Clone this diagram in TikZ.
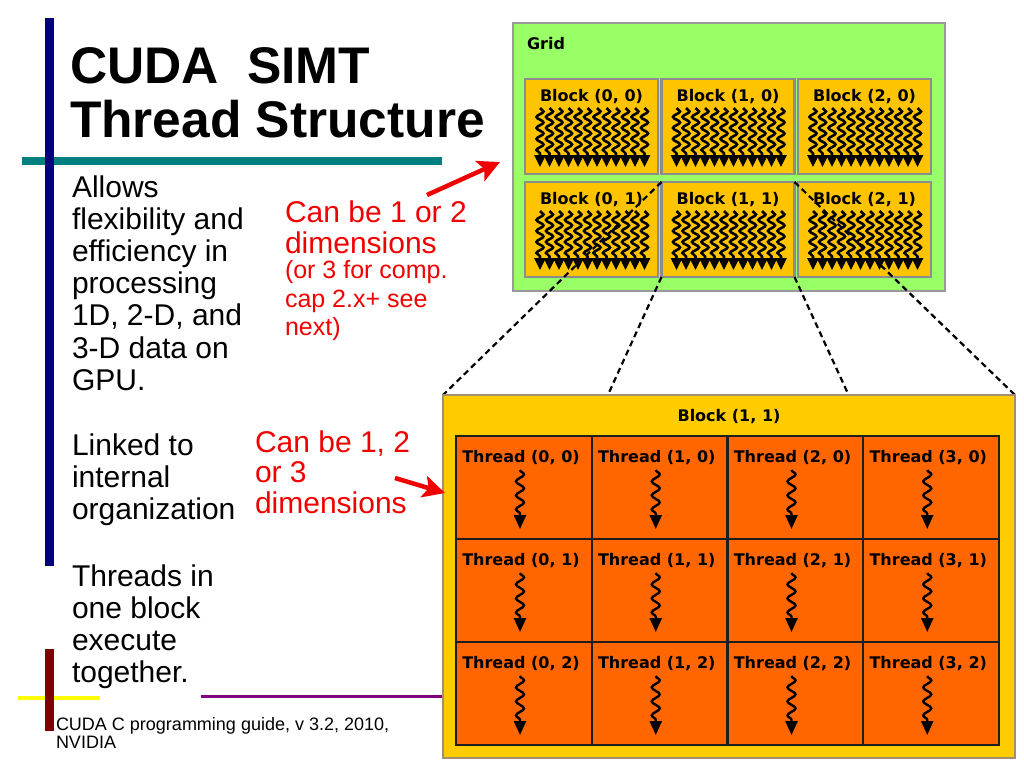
\documentclass[tikz,border=0pt]{standalone}
\usepackage{fontspec}
\setmainfont{Liberation Sans}
\newfontfamily\dvfont{DejaVu Sans}
\usetikzlibrary{decorations.pathmorphing,arrows.meta}
\definecolor{navybar}{HTML}{000080}
\definecolor{tealbar}{HTML}{008080}
\definecolor{maroonbar}{HTML}{800000}
\definecolor{purplebar}{HTML}{800080}
\definecolor{yellowbar}{HTML}{FFFF00}
\definecolor{gridgreen}{HTML}{99FF66}
\definecolor{gridborder}{HTML}{999999}
\definecolor{blkfill}{HTML}{FFC400}
\definecolor{blkborder}{HTML}{8C8C8C}
\definecolor{bigfill}{HTML}{FFCC00}
\definecolor{bigborder}{HTML}{A09070}
\definecolor{thfill}{HTML}{FF6600}
\definecolor{thborder}{HTML}{1E1E1E}
\definecolor{redtxt}{HTML}{F00000}
\begin{document}
\begin{tikzpicture}[x=1pt,y=-1pt,
  txt/.style={anchor=base west,inner sep=0pt,outer sep=0pt},
  titletxt/.style={txt,font=\fontsize{51.5}{54}\selectfont\bfseries},
  bodytxt/.style={txt,font=\fontsize{30}{32}\selectfont},
  redbig/.style={txt,text=redtxt,font=\fontsize{30}{32}\selectfont},
  redsmall/.style={txt,text=redtxt,font=\fontsize{25}{28}\selectfont},
  citetxt/.style={txt,font=\fontsize{18}{18}\selectfont},
  lbl/.style={inner sep=0pt,outer sep=0pt,font=\dvfont\bfseries\fontsize{16}{18}\selectfont},
  gridbox/.style={draw=gridborder,line width=2pt,fill=gridgreen,minimum width=432pt,minimum height=268pt,anchor=north west,inner sep=0pt,outer sep=0pt},
  blk/.style={draw=blkborder,line width=2.5pt,fill=blkfill,minimum width=133pt,minimum height=95pt,anchor=north west,inner sep=0pt,outer sep=0pt},
  thcell/.style={draw=thborder,line width=2.2pt,fill=thfill,minimum width=135.75pt,minimum height=103pt,anchor=north west,inner sep=0pt,outer sep=0pt},
  gsquig/.style={line width=2.6pt,decorate,decoration={snake,segment length=11pt,amplitude=3.5pt,post length=9pt},-{Triangle[length=12pt,width=11pt]}},
  tsquig/.style={line width=2.4pt,decorate,decoration={snake,segment length=14pt,amplitude=4pt,post length=10pt},-{Triangle[length=14pt,width=12pt]}},
  dashline/.style={line width=2.2pt,dash pattern=on 6pt off 4pt},
  redarrow/.style={draw=redtxt,line width=4.5pt,-{Stealth[length=22pt,width=22pt,inset=5pt]}}
]
\useasboundingbox (0,0) rectangle (1024,768);
\fill[white] (0,0) rectangle (1024,768);

% decorative bars
\fill[tealbar] (22,157) rectangle (442,165);
\fill[navybar] (45,18) rectangle (54,566);
\fill[yellowbar] (18,696) rectangle (100,700);
\fill[maroonbar] (45,649) rectangle (54,731);
\fill[purplebar] (201,694.5) rectangle (443,697.5);

% title
\node[titletxt] (title1) at (70,83) {CUDA\ \ SIMT};
\node[titletxt] (title2) at (70,137) {Thread Structure};

% body text
\node[bodytxt] (p1a) at (72,197) {Allows};
\node[bodytxt] (p1b) at (72,229.2) {flexibility and};
\node[bodytxt] (p1c) at (72,261.4) {efficiency in};
\node[bodytxt] (p1d) at (72,293.6) {processing};
\node[bodytxt] (p1e) at (72,325.8) {1D, 2-D, and};
\node[bodytxt] (p1f) at (72,358) {3-D data on};
\node[bodytxt] (p1g) at (72,390.2) {GPU.};
\node[bodytxt] (p2a) at (72,455) {Linked to};
\node[bodytxt] (p2b) at (72,487) {internal};
\node[bodytxt] (p2c) at (72,519) {organization};
\node[bodytxt] (p3a) at (72,586) {Threads in};
\node[bodytxt] (p3b) at (72,618) {one block};
\node[bodytxt] (p3c) at (72,650) {execute};
\node[bodytxt] (p3d) at (72,682) {together.};

% citation
\node[citetxt] (cite1) at (56,730) {CUDA C programming guide, v 3.2, 2010,};
\node[citetxt] (cite2) at (56,748) {NVIDIA};

% grid
\node[gridbox] (grid) at (513,23) {};
\node[lbl,anchor=base west] (gridlbl) at (527,49) {Grid};
\foreach \c in {0,1,2}{
  \foreach \r in {0,1}{
    \pgfmathsetmacro\bx{525+\c*136.5}
    \pgfmathsetmacro\by{79+\r*103}
    \node[blk] (b\c\r) at (\bx,\by) {};
    \node[lbl,anchor=base] (bl\c\r) at ({\bx+66.5},{\by+22}) {Block (\c, \r)};
    \foreach \i in {0,...,11}{
      \draw[gsquig] ({\bx+15+\i*9.5},{\by+29}) -- ({\bx+15+\i*9.5},{\by+88});
    }
  }
}

% big block (shape defined first, drawn after the dashed lines)
\node[minimum width=572pt,minimum height=363pt,anchor=north west,inner sep=0pt,outer sep=0pt] (big) at (443,395) {};
\draw[dashline] (b11.north west) -- (big.north west);
\draw[dashline] (b11.south west) -- (big.south west);
\draw[dashline] (b11.north east) -- (big.north east);
\draw[dashline] (b11.south east) -- (big.south east);
\draw[draw=bigborder,line width=1.5pt,fill=bigfill] (big.north west) rectangle (big.south east);
\node[lbl,anchor=base] (biglbl) at (729,421) {Block (1, 1)};

\foreach \c in {0,1,2,3}{
  \foreach \r in {0,1,2}{
    \pgfmathsetmacro\tx{456+\c*135.75}
    \pgfmathsetmacro\ty{436+\r*103}
    \node[thcell] (th\c\r) at (\tx,\ty) {};
  }
}
\foreach \c in {0,1,2,3}{
  \foreach \r in {0,1,2}{
    \pgfmathsetmacro\tx{456+\c*135.75}
    \pgfmathsetmacro\ty{436+\r*103}
    \node[lbl,anchor=base] (tl\c\r) at ({\tx+65},{\ty+26}) {Thread (\c, \r)};
    \draw[tsquig] ({\tx+64},{\ty+34}) -- ({\tx+64},{\ty+93});
  }
}

% red annotations
\node[redbig] (r1a) at (285,222) {Can be 1 or 2};
\node[redbig] (r1b) at (285,253) {dimensions};
\node[redsmall] (r1c) at (285,278) {(or 3 for comp.};
\node[redsmall] (r1d) at (285,307) {cap 2.x+ see};
\node[redsmall] (r1e) at (285,335) {next)};
\node[redbig] (r2a) at (255,452) {Can be 1, 2};
\node[redbig] (r2b) at (255,482) {or 3};
\node[redbig] (r2c) at (255,513) {dimensions};

\coordinate (a1s) at (427,195);
\coordinate (a1e) at (500,162);
\coordinate (a2s) at (395,478);
\coordinate (a2e) at (445,493);
\draw[redarrow] (a1s) -- (a1e);
\draw[redarrow] (a2s) -- (a2e);
\end{tikzpicture}
\end{document}
